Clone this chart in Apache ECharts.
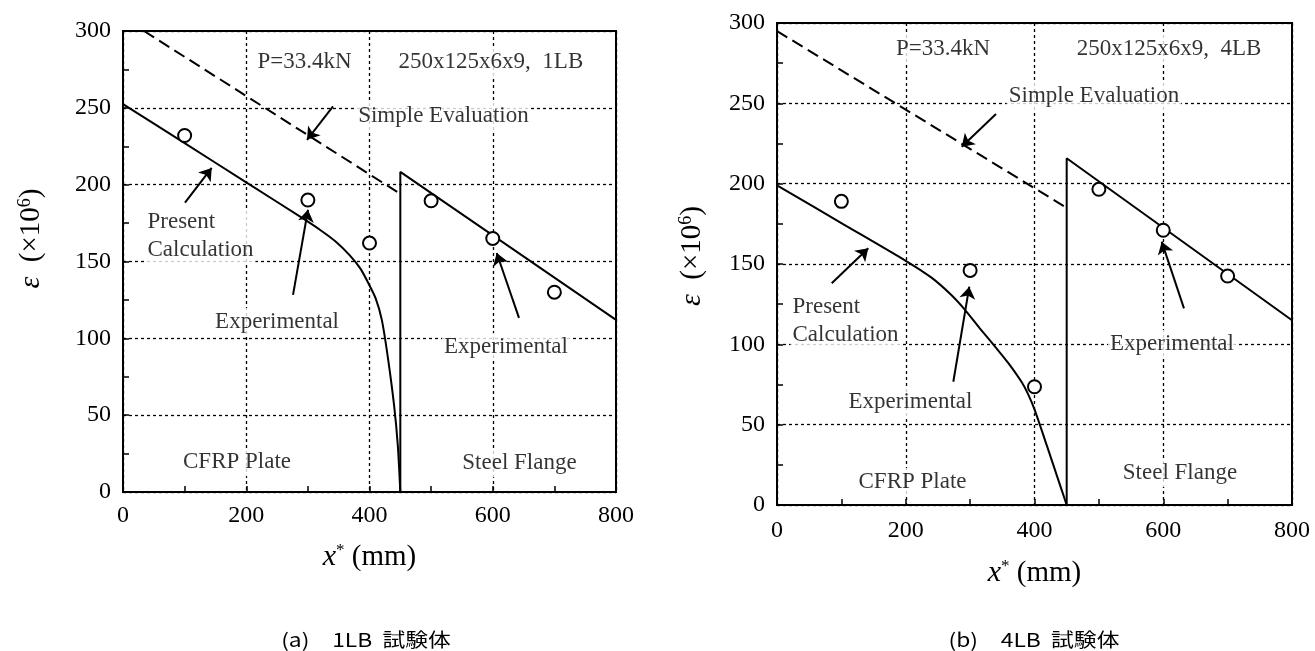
<!DOCTYPE html>
<html>
<head>
<meta charset="utf-8">
<script src="https://cdn.jsdelivr.net/npm/echarts@6/dist/echarts.min.js"></script>
<style>
html,body{margin:0;padding:0;background:#fff;}
#chart{width:1315px;height:651px;}
</style>
</head>
<body>
<div id="chart"></div>
<script>
// ---------- data (x* in mm, strain ×10^6) ----------
const xTicks = [0, 200, 400, 600, 800];
const yTicks = [0, 50, 100, 150, 200, 250, 300];

// (a) 1LB
const leftSimple = [[34, 300], [450, 194]];
const leftPresentCFRP = [[0, 252.4], [100, 227], [200, 201.5], [290, 178.5], [320, 170.5], [345, 163], [368, 154],
  [385, 145.5], [398, 136], [410, 126], [420, 112], [430, 87], [440, 56], [446, 30], [450, 0]];
const leftPresentSteel = [[450, 0], [450, 208.3], [800, 112]];
const leftExp = [[100, 232], [300, 190], [400, 162], [500, 189.5], [600, 165], [700, 130]];
const leftTexts = [
  ['P=33.4kN', 294.5, 279.6, 'c'],
  ['250x125x6x9,  1LB', 597, 279.6, 'c'],
  ['Simple Evaluation', 520, 244.4, 'c'],
  ['Present\nCalculation', 35.7, 166.3, 'l'],
  ['Experimental', 250, 110.7, 'c'],
  ['Experimental', 621.5, 94.4, 'c'],
  ['CFRP Plate', 185, 19.4, 'c'],
  ['Steel Flange', 643.4, 18.7, 'c']
];
const leftArrows = [
  [[340.8, 250.9], [298.6, 229.2]],
  [[100.6, 188.3], [143.9, 210.9]],
  [[275.9, 128.3], [300.2, 183.7]],
  [[642.6, 113.3], [606.4, 155.5]]
];

// (b) 4LB
const rightSimple = [[0, 295], [450, 185]];
const rightPresentCFRP = [[0, 199], [100, 175.5], [200, 152], [240, 141.5], [270, 131], [292, 121.5], [315, 110],
  [340, 98], [360, 88], [380, 76.5], [390, 69], [400, 59.5], [420, 36], [435, 18], [450, 0]];
const rightPresentSteel = [[450, 0], [450, 215.8], [800, 115]];
const rightExp = [[100, 189], [300, 146], [400, 73.6], [500, 196.5], [600, 171], [700, 142.5]];
const rightTexts = [
  ['P=33.4kN', 257.9, 283.8, 'c'],
  ['250x125x6x9,  4LB', 608.9, 283.8, 'c'],
  ['Simple Evaluation', 492.4, 254.6, 'c'],
  ['Present\nCalculation', 20.2, 114.8, 'l'],
  ['Experimental', 207.4, 64.1, 'c'],
  ['Experimental', 613.6, 100.2, 'c'],
  ['CFRP Plate', 210.5, 14.3, 'c'],
  ['Steel Flange', 626, 19.9, 'c']
];
const rightArrows = [
  [[340.2, 243.4], [286.9, 223.0]],
  [[85.0, 138.0], [141.8, 159.8]],
  [[273.9, 76.7], [298.7, 135.9]],
  [[632.2, 122.4], [597.6, 163.9]]
];

const captions = ['(a)\u30001LB  試験体', '(b)\u30004LB  試験体'];
const yTitle = '{e|ε}  (×10{s|6})';
const xTitle = '{i|x}{s|*} (mm)';

// ---------- build ----------
const SERIF = 'Liberation Serif';
const grids = [
  {left: 123, top: 31, width: 493, height: 461},
  {left: 777, top: 23, width: 515, height: 482}
];

function xAxis(idx, gap, margin) {
  return {
    gridIndex: idx, type: 'value', min: 0, max: 800, interval: 200,
    axisLine: {show: true, lineStyle: {color: '#000', width: 2}},
    axisTick: {show: true, inside: true, length: 6, lineStyle: {color: '#000', width: 1.5}},
    minorTick: {show: true, splitNumber: 2, length: 6, lineStyle: {color: '#000', width: 1.5}},
    axisLabel: {color: '#000', fontSize: 24, fontFamily: SERIF, margin: margin},
    splitLine: {show: true, lineStyle: {color: '#000', width: 1.3, type: [3, 3]}},
    name: xTitle, nameLocation: 'middle', nameGap: gap,
    nameTextStyle: {color: '#000', fontFamily: SERIF, fontSize: 29,
      rich: {i: {fontStyle: 'italic', fontFamily: SERIF, fontSize: 30, color: '#000'},
             s: {fontFamily: SERIF, fontSize: 17, verticalAlign: 'top', color: '#000'}}}
  };
}
function yAxis(idx, gap, shift) {
  return {
    gridIndex: idx, type: 'value', min: 0, max: 300, interval: 50,
    axisLine: {show: true, lineStyle: {color: '#000', width: 2}},
    axisTick: {show: true, inside: true, length: 6, lineStyle: {color: '#000', width: 1.5}},
    minorTick: {show: true, splitNumber: 2, length: 6, lineStyle: {color: '#000', width: 1.5}},
    axisLabel: {color: '#000', fontSize: 24, fontFamily: SERIF, margin: 12},
    splitLine: {show: true, lineStyle: {color: '#000', width: 1.3, type: [3, 3]}},
    name: yTitle, nameLocation: 'middle', nameRotate: 90, nameGap: gap,
    nameTextStyle: {color: '#000', fontFamily: SERIF, fontSize: 29, padding: [0, 0, 0, shift],
      rich: {e: {fontStyle: 'italic', fontFamily: SERIF, fontSize: 30, color: '#000'},
             s: {fontFamily: SERIF, fontSize: 18, verticalAlign: 'top', color: '#000'}}}
  };
}

function panelSeries(idx, simple, cfrp, steel, exp, texts, arrows) {
  return [
    {type: 'line', xAxisIndex: idx, yAxisIndex: idx, data: simple, showSymbol: false, symbol: 'none',
     lineStyle: {color: '#000', width: 2, type: [12, 6]}, z: 3},
    {type: 'line', xAxisIndex: idx, yAxisIndex: idx, data: cfrp, showSymbol: false, symbol: 'none',
     smooth: 0.25, lineStyle: {color: '#000', width: 2}, z: 3},
    {type: 'line', xAxisIndex: idx, yAxisIndex: idx, data: steel, showSymbol: false, symbol: 'none',
     lineStyle: {color: '#000', width: 2}, z: 3},
    {type: 'scatter', xAxisIndex: idx, yAxisIndex: idx, data: exp, symbol: 'circle', symbolSize: 13,
     itemStyle: {color: '#fff', borderColor: '#000', borderWidth: 2, opacity: 1}, z: 5},
    {type: 'scatter', xAxisIndex: idx, yAxisIndex: idx, symbol: 'circle', symbolSize: 1, silent: true,
     itemStyle: {color: 'rgba(0,0,0,0)'}, z: 4,
     data: texts.map(t => ({
       value: [t[1], t[2]],
       label: t[3] === 'l' ? {position: 'right', distance: 0, align: 'left'} : {position: 'inside'}
     })),
     label: {show: true, formatter: p => texts[p.dataIndex][0], color: '#000', fontFamily: SERIF,
       fontSize: 23, lineHeight: 28, backgroundColor: '#fff', padding: [0, 2]},
     markLine: {silent: true, symbol: ['none', 'arrow'], symbolSize: 12, animation: false,
       lineStyle: {color: '#000', width: 2, type: 'solid'}, label: {show: false},
       data: arrows.map(a => [{coord: a[0]}, {coord: a[1]}])}
    }
  ];
}

const chart = echarts.init(document.getElementById('chart'), null, {renderer: 'canvas'});
chart.setOption({
  animation: false,
  backgroundColor: '#fff',
  textStyle: {fontFamily: SERIF},
  grid: grids.map(g => Object.assign({show: true, borderColor: '#000', borderWidth: 2, backgroundColor: 'transparent'}, g)),
  xAxis: [xAxis(0, 50, 12), xAxis(1, 53, 14)],
  yAxis: [yAxis(0, 77, 46), yAxis(1, 70, 16)],
  series: [].concat(
    panelSeries(0, leftSimple, leftPresentCFRP, leftPresentSteel, leftExp, leftTexts, leftArrows),
    panelSeries(1, rightSimple, rightPresentCFRP, rightPresentSteel, rightExp, rightTexts, rightArrows)
  ),
  graphic: [
    {type: 'text', x: 366, y: 640, scaleX: 1.2, style: {text: captions[0], fontSize: 19, fontFamily: 'Noto Sans CJK JP', fill: '#000', align: 'center', verticalAlign: 'middle'}},
    {type: 'text', x: 1034, y: 640, scaleX: 1.2, style: {text: captions[1], fontSize: 19, fontFamily: 'Noto Sans CJK JP', fill: '#000', align: 'center', verticalAlign: 'middle'}}
  ]
});
</script>
</body>
</html>
